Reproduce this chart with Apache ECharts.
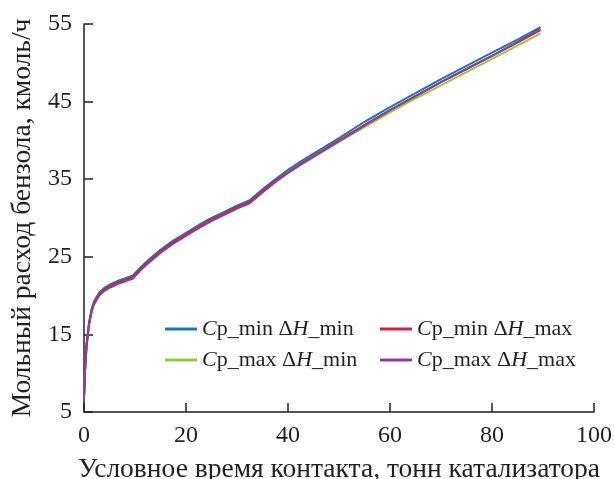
<!DOCTYPE html>
<html>
<head>
<meta charset="utf-8">
<script src="https://cdn.jsdelivr.net/npm/echarts@6/dist/echarts.min.js"></script>
<style>
  html, body { margin: 0; padding: 0; background: #fff; }
  #chart { width: 615px; height: 479px; }
</style>
</head>
<body>
<div id="chart"></div>
<script>
// contact time, t of catalyst
const contactTime = [0, 0.2, 0.5, 1, 1.5, 2, 3, 4, 5, 6, 7, 8, 9.6, 11, 12, 13, 15, 17.5, 20, 22.5, 25, 27.5, 30, 32.5, 35, 37.5, 40, 42.5, 45, 50, 55, 60, 65, 70, 75, 80, 85, 89.5];

// benzene molar flow, kmol/h
const cpMinHMin = [6.9, 10.5, 13.8, 16.6, 18.3, 19.3, 20.4, 21.0, 21.4, 21.7, 22.0, 22.2, 22.6, 23.6, 24.2, 24.8, 25.9, 27.1, 28.1, 29.1, 30.0, 30.8, 31.6, 32.3, 33.7, 35.0, 36.2, 37.3, 38.3, 40.3, 42.4, 44.3, 46.1, 47.9, 49.6, 51.3, 53.0, 54.6];
const cpMinHMax = [6.8, 10.4, 13.6, 16.4, 18.1, 19.1, 20.2, 20.8, 21.2, 21.5, 21.8, 22.0, 22.4, 23.4, 24.0, 24.6, 25.7, 26.9, 27.9, 28.9, 29.8, 30.6, 31.4, 32.1, 33.5, 34.8, 35.9, 37.0, 38.0, 40.0, 42.0, 43.9, 45.7, 47.5, 49.2, 50.9, 52.6, 54.2];
const cpMaxHMin = [6.8, 10.3, 13.6, 16.4, 18.1, 19.1, 20.2, 20.8, 21.2, 21.5, 21.8, 22.0, 22.4, 23.4, 24.0, 24.6, 25.7, 26.9, 27.9, 28.8, 29.7, 30.5, 31.3, 32.0, 33.4, 34.7, 35.8, 36.8, 37.8, 39.8, 41.7, 43.6, 45.4, 47.1, 48.8, 50.5, 52.2, 53.8];
const cpMaxHMax = [6.6, 10.1, 13.4, 16.2, 17.9, 18.9, 20.0, 20.6, 21.0, 21.3, 21.6, 21.8, 22.2, 23.2, 23.8, 24.4, 25.5, 26.7, 27.7, 28.7, 29.6, 30.4, 31.2, 31.9, 33.3, 34.6, 35.8, 36.9, 37.9, 39.9, 41.9, 43.9, 45.7, 47.5, 49.2, 50.9, 52.7, 54.4];

const xTicks = [0, 20, 40, 60, 80, 100];
const yTicks = [5, 15, 25, 35, 45, 55];

const names = ['Cp_min ΔH_min', 'Cp_min ΔH_max', 'Cp_max ΔH_min', 'Cp_max ΔH_max'];
const colors = ['#1677b9', '#d81f3d', '#93c83f', '#8c3f97'];
const values = [cpMinHMin, cpMinHMax, cpMaxHMin, cpMaxHMax];

const serif = '"Liberation Serif", "DejaVu Serif", serif';

const pairs = (ys) => contactTime.map((x, i) => [x, ys[i]]);

// italic C and H in legend labels
const legendLabel = (name) => {
  const m = name.match(/^C(p_\w+) ΔH(.*)$/);
  return '{i|C}' + m[1] + ' Δ{i|H}' + m[2];
};

const legendText = {
  fontFamily: serif,
  fontSize: 22,
  color: '#231f20',
  rich: {
    i: { fontFamily: serif, fontSize: 22, fontStyle: 'italic', color: '#231f20' }
  }
};

const makeLegend = (data, left) => ({
  orient: 'vertical',
  left: left,
  top: 313,
  itemWidth: 32,
  itemHeight: 3,
  itemGap: 9,
  icon: 'rect',
  data: data,
  formatter: legendLabel,
  textStyle: legendText,
  selectedMode: false
});

const axisLine = { show: true, lineStyle: { color: '#231f20', width: 1.5 } };
const axisTick = { show: true, inside: true, length: 9, lineStyle: { color: '#231f20', width: 1.5 } };

const chart = echarts.init(document.getElementById('chart'));

chart.setOption({
  animation: false,
  grid: { left: 84, right: 21, top: 24, bottom: 67, containLabel: false, outerBoundsMode: 'none' },
  legend: [
    makeLegend([names[0], names[2]], 160),
    makeLegend([names[1], names[3]], 375)
  ],
  xAxis: {
    type: 'value',
    min: xTicks[0],
    max: xTicks[xTicks.length - 1],
    interval: 20,
    name: 'Условное время контакта, тонн катализатора',
    nameLocation: 'middle',
    nameGap: 44,
    nameTextStyle: { fontFamily: serif, fontSize: 27.5, color: '#231f20' },
    axisLine: axisLine,
    axisTick: axisTick,
    splitLine: { show: false },
    axisLabel: { fontFamily: serif, fontSize: 24, color: '#231f20', margin: 12 }
  },
  yAxis: {
    type: 'value',
    min: yTicks[0],
    max: yTicks[yTicks.length - 1],
    interval: 10,
    name: 'Мольный расход бензола, кмоль/ч',
    nameLocation: 'middle',
    nameGap: 46,
    nameTextStyle: { fontFamily: serif, fontSize: 27.5, color: '#231f20' },
    axisLine: axisLine,
    axisTick: axisTick,
    splitLine: { show: false },
    axisLabel: { fontFamily: serif, fontSize: 24, color: '#231f20', margin: 12 }
  },
  series: names.map((name, i) => ({
    name: name,
    type: 'line',
    data: pairs(values[i]),
    showSymbol: false,
    symbol: 'none',
    smooth: false,
    color: colors[i],
    lineStyle: { width: 2, color: colors[i] },
    z: [2, 3, 1, 4][i]
  }))
});
</script>
</body>
</html>
